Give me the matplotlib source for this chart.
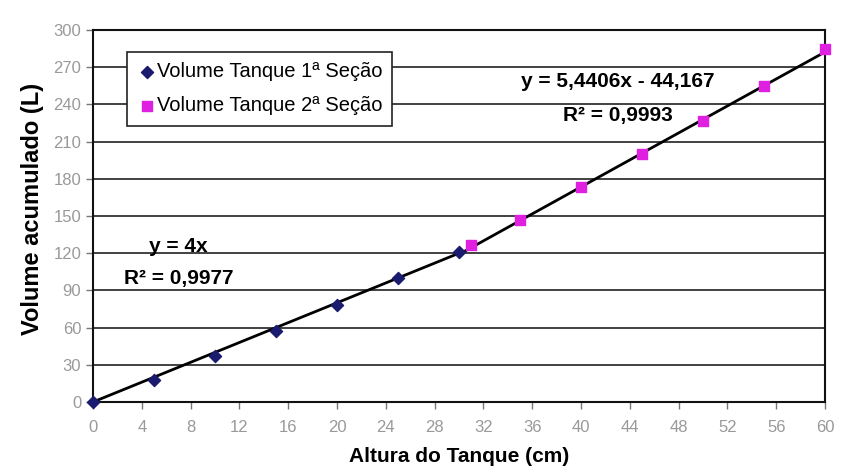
import numpy as np
import matplotlib.pyplot as plt

plt.rcParams["font.family"] = ["Liberation Sans", "DejaVu Sans"]

# Medições de volume acumulado por altura
altura_s1 = [0, 5, 10, 15, 20, 25, 30]
volume_s1 = [0, 18, 37, 57, 78, 100, 121]
altura_s2 = [31, 35, 40, 45, 50, 55, 60]
volume_s2 = [127, 147, 173, 200, 227, 255, 285]

# Coeficientes das linhas de tendência (a*x + b)
coef_s1 = (4.0, 0.0)
coef_s2 = (5.4406, -44.167)
r2_s1 = "0,9977"
r2_s2 = "0,9993"

x_ticks = list(range(0, 61, 4))
y_ticks = list(range(0, 301, 30))

fig = plt.figure(figsize=(8.43, 4.73), dpi=100)
ax = fig.add_axes([93 / 843, 1 - 402 / 473, 732 / 843, 372 / 473])

ax.set_xlim(0, 60)
ax.set_ylim(0, 300)
ax.set_yticks(y_ticks)
ax.set_xticks(x_ticks)
ax.yaxis.grid(True, color="#333333", linewidth=1.3)
ax.set_axisbelow(True)
for side in ax.spines.values():
    side.set_color("#111111")
    side.set_linewidth(1.5)
ax.tick_params(axis="both", direction="out", length=5, width=1, color="#777777",
               labelcolor="#999999", labelsize=12)
ax.tick_params(axis="x", pad=8)

# Linhas de tendência
xs1 = np.array([altura_s1[0], altura_s1[-1]])
ax.plot(xs1, coef_s1[0] * xs1 + coef_s1[1], color="black", linewidth=2, zorder=2)
xs2 = np.array([altura_s2[0] - 1, altura_s2[-1]])
ax.plot(xs2, coef_s2[0] * xs2 + coef_s2[1], color="black", linewidth=2, zorder=2)

# Pontos medidos
ax.scatter(altura_s1, volume_s1, marker="D", s=38, color="#1a1a6e",
           label="Volume Tanque 1ª Seção", zorder=3, clip_on=False)
ax.scatter(altura_s2, volume_s2, marker="s", s=55, color="#e020e0",
           label="Volume Tanque 2ª Seção", zorder=3, clip_on=False)

leg = ax.legend(loc="upper left", bbox_to_anchor=(0.046, 0.94), frameon=True,
                fancybox=False, edgecolor="#222222", framealpha=1,
                fontsize=14.5, handletextpad=0.0, borderpad=0.5,
                labelspacing=0.75, handlelength=1.0, borderaxespad=0)
leg.get_frame().set_linewidth(1.2)

ax.text(7.0, 121, "y = 4x", ha="center", fontsize=15, fontweight="bold")
ax.text(7.0, 95, "R² = " + r2_s1, ha="center", fontsize=15, fontweight="bold")
ax.text(43.0, 254, "y = 5,4406x - 44,167", ha="center", fontsize=15,
        fontweight="bold")
ax.text(43.0, 227, "R² = " + r2_s2, ha="center", fontsize=15,
        fontweight="bold")

ax.set_xlabel("Altura do Tanque (cm)", fontsize=15, fontweight="bold")
ax.xaxis.set_label_coords(0.5, -0.12)
ax.set_ylabel("Volume acumulado (L)", fontsize=17, fontweight="bold")
ax.yaxis.set_label_coords(-0.067, 0.52)

fig.savefig("out.png", dpi=100, facecolor="white")
